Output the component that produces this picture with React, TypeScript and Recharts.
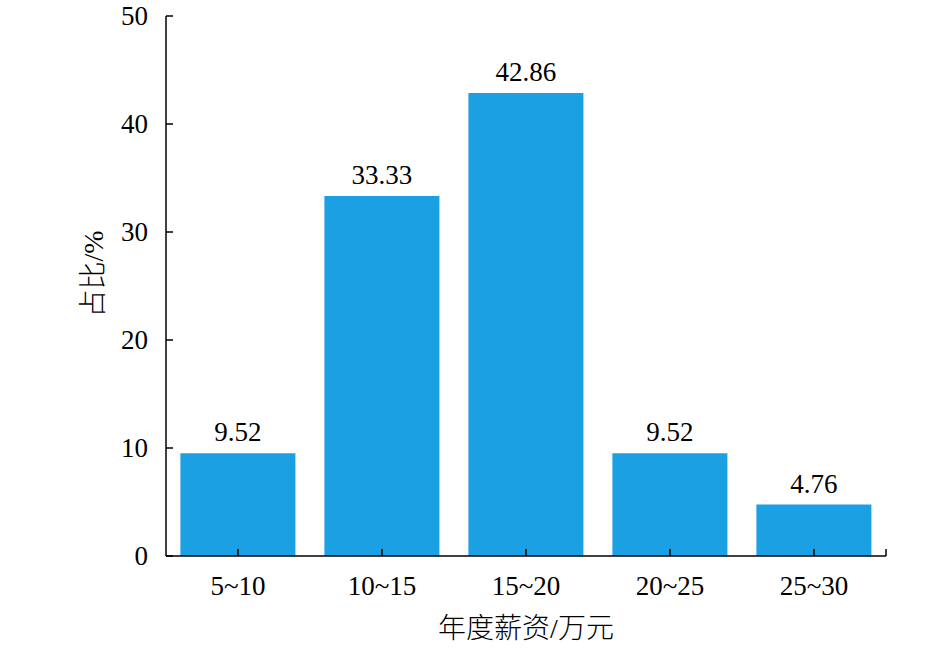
import { BarChart, Bar, XAxis, YAxis, LabelList, Label } from 'recharts'

document.body.style.margin = '0'

const categories = ['5~10', '10~15', '15~20', '20~25', '25~30']
const shares = [9.52, 33.33, 42.86, 9.52, 4.76]
const yTicks = [0, 10, 20, 30, 40, 50]

const data = categories.map((c, i) => ({ range: c, share: shares[i] }))

const FONT = "'Liberation Serif', 'DejaVu Serif', serif"
const CJK_FONT = "'Liberation Serif', 'Noto Sans CJK SC', serif"
const BLUE = '#1ba0e4'
const txt = { fontFamily: FONT, fontSize: 27, fill: '#000' }
const cjkTxt = { fontFamily: CJK_FONT, fontSize: 28, fill: '#000', fontWeight: 300 }

const YTick = ({ x, y, payload }: any) => (
  <g>
    <line x1={x + 18} x2={x + 25} y1={y} y2={y} stroke="#000" strokeWidth={1.5} />
    <text x={x} y={y} dy="0.35em" textAnchor="end" style={txt}>
      {payload.value}
    </text>
  </g>
)

const XTick = ({ x, y, payload, index }: any) => {
  const half = (x - 166) / (2 * index + 1)
  const last = index === categories.length - 1
  return (
    <g>
      <line x1={x} x2={x} y1={y - 20} y2={y - 27} stroke="#000" strokeWidth={1.5} />
      {last && <line x1={x + half} x2={x + half} y1={y - 20} y2={y - 27} stroke="#000" strokeWidth={1.5} />}
      <text x={x} y={y} dy="0.7em" textAnchor="middle" style={txt}>
        {payload.value}
      </text>
    </g>
  )
}

const BarLabel = ({ x, y, width, value }: any) => (
  <text x={x + width / 2} y={y - 12} textAnchor="middle" style={txt}>
    {Number(value).toFixed(2)}
  </text>
)

export default function App() {
  return (
    <div style={{ width: 945, height: 653, background: '#fff' }}>
      <BarChart width={945} height={653} data={data}
        margin={{ top: 16, right: 59, left: 0, bottom: 0 }} barCategoryGap="10%">
        <XAxis dataKey="range" height={97} tickSize={0} tickMargin={20} tick={<XTick />}
          axisLine={{ stroke: '#000', strokeWidth: 1.5 }} interval={0}>
          <Label value="年度薪资/万元" position="center" dy={24} style={cjkTxt} />
        </XAxis>
        <YAxis width={166} domain={[0, 50]} ticks={yTicks} tickSize={0} tickMargin={18} tick={<YTick />}
          axisLine={{ stroke: '#000', strokeWidth: 1.5 }} interval={0}>
          <Label value="占比/%" angle={-90} position="center" dx={10} dy={-12} style={cjkTxt} />
        </YAxis>
        <Bar dataKey="share" fill={BLUE} isAnimationActive={false}>
          <LabelList dataKey="share" content={<BarLabel />} />
        </Bar>
      </BarChart>
    </div>
  )
}
